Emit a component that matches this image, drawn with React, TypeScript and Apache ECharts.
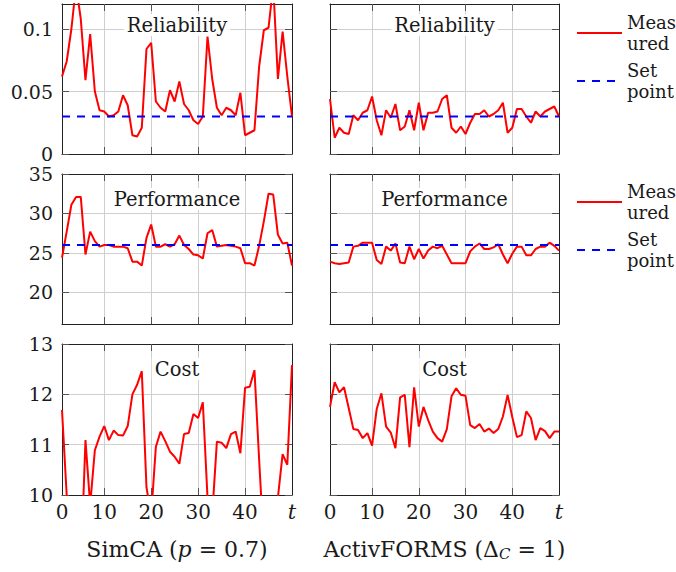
import React, { useEffect, useRef } from "react";
import * as echarts from "echarts";

// time steps
const T = [
  1, 2, 3, 4, 5, 6, 7, 8, 9, 10, 11, 12, 13, 14, 15, 16, 17, 18, 19, 20, 21, 22, 23, 24, 25,
  26, 27, 28, 29, 30, 31, 32, 33, 34, 35, 36, 37, 38, 39, 40, 41, 42, 43, 44, 45, 46, 47, 48, 49, 50,
];

const SIMCA_RELIABILITY = [
  0.062, 0.074, 0.1, 0.135, 0.108, 0.059, 0.096, 0.05, 0.035, 0.034,
  0.03, 0.031, 0.034, 0.047, 0.039, 0.015, 0.014, 0.021, 0.084, 0.089,
  0.042, 0.037, 0.034, 0.051, 0.042, 0.058, 0.04, 0.035, 0.027, 0.024,
  0.03, 0.094, 0.06, 0.037, 0.031, 0.037, 0.035, 0.031, 0.049, 0.015,
  0.017, 0.019, 0.07, 0.099, 0.101, 0.135, 0.06, 0.098, 0.062, 0.03,
];
const ACTIV_RELIABILITY = [
  0.044, 0.013, 0.021, 0.017, 0.016, 0.031, 0.027, 0.033, 0.035, 0.046,
  0.027, 0.015, 0.035, 0.029, 0.04, 0.019, 0.022, 0.035, 0.019, 0.041,
  0.019, 0.033, 0.033, 0.034, 0.044, 0.047, 0.021, 0.017, 0.022, 0.016,
  0.025, 0.032, 0.032, 0.035, 0.03, 0.032, 0.035, 0.041, 0.017, 0.021,
  0.036, 0.036, 0.03, 0.025, 0.034, 0.03, 0.034, 0.036, 0.038, 0.03,
];
const SIMCA_PERFORMANCE = [
  24.4, 27.7, 31.1, 32.1, 32.1, 24.8, 27.7, 26.5, 25.8, 26.0,
  26.0, 25.8, 25.8, 25.8, 25.6, 23.9, 23.9, 23.4, 26.9, 28.6,
  25.8, 25.8, 26.1, 25.8, 26.1, 27.2, 26.0, 25.5, 24.8, 24.7,
  24.3, 27.5, 27.9, 25.8, 25.9, 26.0, 25.9, 25.8, 25.6, 23.7,
  23.7, 23.4, 25.9, 29.0, 32.5, 32.4, 27.3, 26.2, 26.3, 23.4,
];
const ACTIV_PERFORMANCE = [
  23.9, 23.7, 23.6, 23.7, 23.8, 25.8, 25.9, 26.3, 26.3, 26.3,
  24.1, 23.6, 25.8, 25.3, 26.2, 23.8, 23.7, 25.8, 24.2, 25.5,
  24.3, 25.3, 25.8, 25.6, 25.9, 24.8, 23.7, 23.7, 23.7, 23.7,
  25.2, 25.8, 26.2, 25.5, 25.5, 25.7, 26.1, 24.8, 23.7, 24.9,
  25.8, 25.8, 24.7, 24.7, 25.5, 25.8, 25.8, 26.3, 25.9, 25.3,
];
const SIMCA_COST = [
  11.69, 10.0, 9.2, 9.0, 8.5, 11.09, 9.8, 10.89, 11.16, 11.37,
  11.09, 11.28, 11.19, 11.18, 11.37, 12.0, 12.19, 12.46, 10.15, 9.6,
  10.96, 11.26, 11.07, 10.86, 10.76, 10.62, 11.21, 11.23, 11.61, 11.53,
  11.84, 9.95, 9.6, 11.06, 11.04, 10.93, 11.21, 11.26, 10.83, 12.13,
  12.15, 12.48, 10.7, 9.0, 9.2, 9.4, 9.95, 10.81, 10.6, 12.58,
];
const ACTIV_COST = [
  11.75, 12.24, 12.04, 12.14, 11.73, 11.31, 11.29, 11.13, 11.23, 10.98,
  11.71, 12.02, 11.36, 11.24, 10.93, 11.94, 11.99, 10.95, 12.14, 11.36,
  11.75, 11.49, 11.26, 11.13, 11.06, 11.31, 11.96, 12.12, 11.99, 11.97,
  11.39, 11.33, 11.41, 11.26, 11.32, 11.23, 11.31, 11.56, 11.99, 11.55,
  11.15, 11.19, 11.66, 11.53, 11.09, 11.33, 11.27, 11.13, 11.26, 11.26,
];

const RELIABILITY_SET_POINT = 0.03;
const PERFORMANCE_SET_POINT = 26;

const X_TICKS = [10, 20, 30, 40];
const X_LABELS = [1, 10, 20, 30, 40, 50];
const RELIABILITY_TICKS = [0, 0.05, 0.1];
const PERFORMANCE_TICKS = [20, 25, 30, 35];
const COST_TICKS = [10, 11, 12, 13];

const METRICS = ["Reliability", "Performance", "Cost"];
const LEGEND_NAMES = ["Measured", "Set point"];

const FONT = "'DejaVu Serif', serif";
const TEXT = "#1a1a1a";

export default function App() {
  const ref = useRef<HTMLDivElement>(null);

  useEffect(() => {
    if (!ref.current) return;
    const chart = echarts.init(ref.current, undefined, { renderer: "svg" });

    const colLeft = [62, 330];
    const colWidth = [230, 229];
    const rowTop = [4, 174, 344];
    const rowHeight = [150, 150, 151];
    const yRange = [
      [0, 0.12],
      [16, 35],
      [10, 13],
    ];
    const yTicks = [RELIABILITY_TICKS, PERFORMANCE_TICKS, COST_TICKS];
    const setPoints = [RELIABILITY_SET_POINT, PERFORMANCE_SET_POINT, null];
    const values = [
      [SIMCA_RELIABILITY, ACTIV_RELIABILITY],
      [SIMCA_PERFORMANCE, ACTIV_PERFORMANCE],
      [SIMCA_COST, ACTIV_COST],
    ];

    const grid: any[] = [];
    const xAxis: any[] = [];
    const yAxis: any[] = [];
    const series: any[] = [];
    const graphic: any[] = [];

    const border = { show: true, onZero: false, lineStyle: { color: "#222", width: 1 } };
    const tick = (vals: number[]) => ({
      show: true,
      inside: true,
      length: 7,
      customValues: vals,
      lineStyle: { color: "#555", width: 1 },
    });
    const labelStyle = { fontFamily: FONT, fontSize: 19, lineHeight: 16, color: TEXT };

    for (let r = 0; r < 3; r++) {
      for (let c = 0; c < 2; c++) {
        const g = grid.length;
        grid.push({ left: colLeft[c], top: rowTop[r], width: colWidth[c], height: rowHeight[r] });
        xAxis.push({
          gridIndex: g,
          type: "value",
          min: T[0],
          max: T[T.length - 1],
          position: "bottom",
          axisLine: border,
          axisTick: tick(X_TICKS),
          splitLine: { show: true, lineStyle: { color: "#cfcfcf", width: 1 } },
          axisLabel: {
            show: r === 2,
            customValues: X_LABELS,
            margin: 9,
            ...labelStyle,
            fontSize: 20,
            formatter: (v: number) => (v === 1 ? "0" : v === 50 ? "{t|t}" : String(v)),
            rich: {
              t: { fontFamily: FONT, fontSize: 21, lineHeight: 16, fontStyle: "italic", color: TEXT },
            },
          },
        });
        xAxis.push({
          gridIndex: g,
          type: "value",
          min: T[0],
          max: T[T.length - 1],
          position: "top",
          axisLine: border,
          axisTick: tick(X_TICKS),
          splitLine: { show: false },
          axisLabel: { show: false },
        });
        yAxis.push({
          gridIndex: g,
          type: "value",
          min: yRange[r][0],
          max: yRange[r][1],
          position: "left",
          axisLine: border,
          axisTick: tick(yTicks[r]),
          splitLine: { show: true, lineStyle: { color: "#cfcfcf", width: 1 } },
          axisLabel: { show: c === 0, customValues: yTicks[r], margin: 9, ...labelStyle },
        });
        yAxis.push({
          gridIndex: g,
          type: "value",
          min: yRange[r][0],
          max: yRange[r][1],
          position: "right",
          axisLine: border,
          axisTick: tick(yTicks[r]),
          splitLine: { show: false },
          axisLabel: { show: false },
        });

        series.push({
          type: "line",
          name: LEGEND_NAMES[0],
          xAxisIndex: 2 * g,
          yAxisIndex: 2 * g,
          data: T.map((t, i) => [t, values[r][c][i]]),
          symbol: "none",
          clip: true,
          color: "#ff0000",
          lineStyle: { color: "#ff0000", width: 2 },
          z: 3,
        });
        const sp = setPoints[r];
        if (sp !== null) {
          series.push({
            type: "line",
            name: LEGEND_NAMES[1],
            xAxisIndex: 2 * g,
            yAxisIndex: 2 * g,
            data: [
              [T[0], sp],
              [T[T.length - 1], sp],
            ],
            symbol: "none",
            color: "#0000ff",
            lineStyle: { color: "#0000ff", width: 2, type: [8, 7] },
            z: 4,
          });
        }

        graphic.push({
          type: "text",
          x: colLeft[c] + colWidth[c] / 2,
          y: rowTop[r] + (r === 0 ? 21 : 25),
          z: 100,
          style: {
            text: METRICS[r],
            fontFamily: FONT,
            fontSize: 19.5,
            fill: TEXT,
            align: "center",
            verticalAlign: "middle",
            backgroundColor: "#fff",
            padding: [1, 3],
          },
        });
      }
    }

    graphic.push({
      type: "text",
      x: colLeft[0] + colWidth[0] / 2,
      y: 549,
      style: {
        text: "SimCA ({i|p} = 0.7)",
        fontFamily: FONT,
        fontSize: 22,
        fill: TEXT,
        align: "center",
        verticalAlign: "middle",
        rich: { i: { fontFamily: FONT, fontSize: 22, fontStyle: "italic", fill: TEXT } },
      },
    });
    graphic.push({
      type: "text",
      x: colLeft[1] + colWidth[1] / 2,
      y: 549,
      style: {
        text: "ActivFORMS (Δ{sub|C} = 1)",
        fontFamily: FONT,
        fontSize: 22,
        fill: TEXT,
        align: "center",
        verticalAlign: "middle",
        rich: {
          sub: {
            fontFamily: FONT,
            fontSize: 15,
            fontStyle: "italic",
            fill: TEXT,
            padding: [10, 0, 0, 0],
          },
        },
      },
    });

    const legendBase = {
      orient: "vertical",
      left: 576,
      padding: 0,
      itemWidth: 45,
      itemHeight: 14,
      itemGap: 6,
      data: LEGEND_NAMES,
      selectedMode: false,
      itemStyle: { opacity: 0 },
      formatter: (name: string) => (name === "Measured" ? "Meas\nured" : "Set\npoint"),
      textStyle: { fontFamily: FONT, fontSize: 18, lineHeight: 21, color: TEXT },
    };

    chart.setOption({
      animation: false,
      backgroundColor: "#fff",
      grid,
      xAxis,
      yAxis,
      series,
      graphic,
      legend: [
        { ...legendBase, top: 12 },
        { ...legendBase, top: 181 },
      ],
    });

    return () => chart.dispose();
  }, []);

  return (
    <div
      ref={ref}
      style={{ position: "fixed", left: 0, top: 0, width: 676, height: 572, background: "#fff" }}
    />
  );
}
